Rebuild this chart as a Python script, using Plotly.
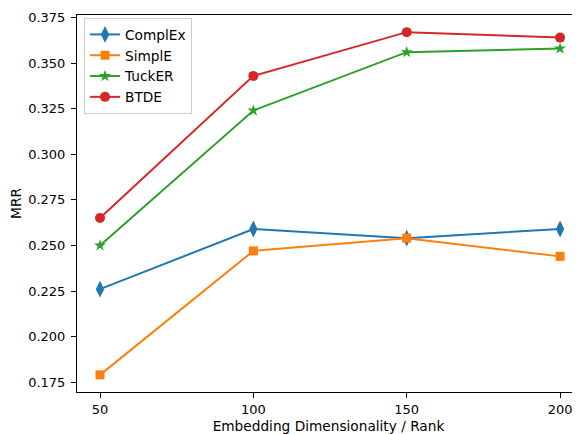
import plotly.graph_objects as go

dims = [50, 100, 150, 200]
complex_mrr = [0.226, 0.259, 0.254, 0.259]
simple_mrr = [0.179, 0.247, 0.254, 0.244]
tucker_mrr = [0.250, 0.324, 0.356, 0.358]
btde_mrr = [0.265, 0.343, 0.367, 0.364]
y_ticks = [0.175, 0.200, 0.225, 0.250, 0.275, 0.300, 0.325, 0.350, 0.375]

series = [
    ("ComplEx", complex_mrr, "#1f77b4", "diamond-tall", 12),
    ("SimplE", simple_mrr, "#ff7f0e", "square", 9),
    ("TuckER", tucker_mrr, "#2ca02c", "star", 9),
    ("BTDE", btde_mrr, "#d62728", "circle", 10),
]

fig = go.Figure()
for name, vals, color, sym, size in series:
    fig.add_trace(go.Scatter(
        x=dims, y=vals, name=name, mode="lines+markers",
        line=dict(color=color, width=2),
        marker=dict(symbol=sym, size=size, color=color, line=dict(width=0)),
    ))

tick_font = dict(family="DejaVu Sans", size=13, color="black")
label_font = dict(family="DejaVu Sans", size=13.7, color="black")
# page body has an 8px margin, so the figure is sized/offset to compensate
fig.update_layout(
    width=572, height=426,
    margin=dict(l=69, r=0, t=7, b=42, autoexpand=False),
    paper_bgcolor="white", plot_bgcolor="white",
    font=tick_font,
    showlegend=True,
    legend=dict(
        x=0.014, y=0.992, xanchor="left", yanchor="top",
        bgcolor="rgba(255,255,255,0.8)", bordercolor="#cccccc", borderwidth=1,
        font=label_font,
        itemwidth=30, tracegroupgap=0,
    ),
)
fig.update_xaxes(
    range=[42.5, 206.5], tickvals=dims, ticktext=[str(d) for d in dims],
    automargin=False, tickfont=tick_font,
    showgrid=False, zeroline=False, showline=True, linecolor="black", linewidth=1,
    mirror=True, ticks="outside", ticklen=5, tickcolor="black",
    title=dict(text="Embedding Dimensionality / Rank", standoff=7, font=label_font),
)
fig.update_yaxes(
    range=[0.1696, 0.3764], tickvals=y_ticks, ticktext=[f"{t:.3f}" for t in y_ticks],
    automargin=False, tickfont=tick_font, ticklabelstandoff=3,
    showgrid=False, zeroline=False, showline=True, linecolor="black", linewidth=1,
    ticks="outside", ticklen=5, tickcolor="black",
    title=dict(text="MRR", standoff=16, font=label_font),
)

fig.write_html("out.html")
